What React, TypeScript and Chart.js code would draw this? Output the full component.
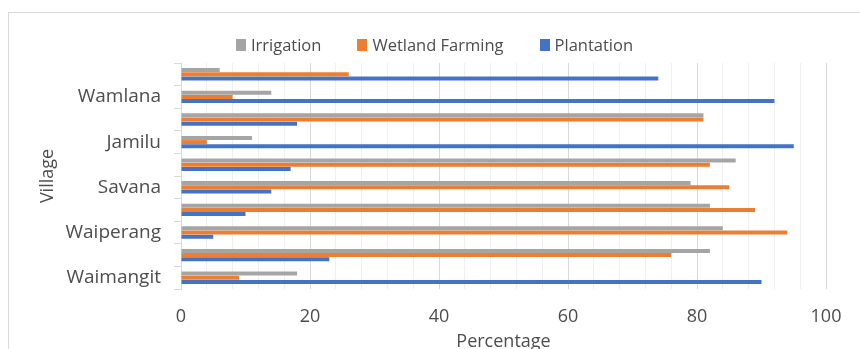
import React, { useEffect, useRef } from "react";
import { Chart, registerables } from "chart.js";

Chart.register(...registerables);

// Categories listed bottom-to-top, as on the value axis; blanks are unlabeled rows.
const villages = ["Waimangit", "", "Waiperang", "", "Savana", "", "Jamilu", "", "Wamlana", ""];

const irrigation = [18, 82, 84, 82, 79, 86, 11, 81, 14, 6];
const wetlandFarming = [9, 76, 94, 89, 85, 82, 4, 81, 8, 26];
const plantation = [90, 23, 5, 10, 14, 17, 95, 18, 92, 74];

const seriesNames = ["Irrigation", "Wetland Farming", "Plantation"];
const seriesColors = ["#A5A5A5", "#ED7D31", "#4472C4"];

const FONT = "'Open Sans', 'DejaVu Sans', sans-serif";
const TEXT = "#4d4d4d";
const MAJOR_GRID = "#d9d9d9";
const MINOR_GRID = "#efefef";

export default function App() {
  const canvasRef = useRef<HTMLCanvasElement>(null);

  useEffect(() => {
    if (!canvasRef.current) return;
    const chart = new Chart(canvasRef.current, {
      type: "bar",
      data: {
        labels: villages,
        datasets: [irrigation, wetlandFarming, plantation].map((values, i) => ({
          label: seriesNames[i],
          data: values,
          backgroundColor: seriesColors[i],
          borderWidth: 0,
          categoryPercentage: 0.56,
          barPercentage: 0.95,
        })),
      },
      options: {
        indexAxis: "y",
        animation: false,
        responsive: false,
        layout: { padding: { top: 50, right: 34, bottom: 0, left: 0 } },
        plugins: {
          legend: { display: false },
          tooltip: { enabled: false },
        },
        scales: {
          x: {
            min: 0,
            max: 100,
            ticks: {
              stepSize: 4,
              autoSkip: false,
              maxRotation: 0,
              padding: 17,
              color: TEXT,
              font: { family: FONT, size: 18 },
              callback: (v: any) => (Number(v) % 20 === 0 ? String(v) : ""),
            },
            grid: {
              drawTicks: false,
              lineWidth: 1,
              color: (ctx: any) =>
                ctx.tick && ctx.tick.value % 20 === 0 ? MAJOR_GRID : MINOR_GRID,
            },
            border: { display: false },
            title: {
              display: true,
              text: "Percentage",
              color: TEXT,
              font: { family: FONT, size: 18, lineHeight: 0.8 },
              padding: 0,
            },
            afterFit: (s: any) => {
              s.height = 60;
            },
          },
          y: {
            reverse: true,
            ticks: {
              autoSkip: false,
              padding: 13,
              color: TEXT,
              font: { family: FONT, size: 19 },
            },
            grid: {
              drawOnChartArea: false,
              drawTicks: true,
              tickLength: 7,
              color: MAJOR_GRID,
            },
            border: { display: true, color: MAJOR_GRID },
            title: {
              display: true,
              text: "Village",
              color: TEXT,
              font: { family: FONT, size: 18, lineHeight: 1.2 },
              padding: { top: 28, bottom: 0 },
            },
            afterFit: (s: any) => {
              s.width = 172;
            },
          },
        },
      },
    });
    return () => chart.destroy();
  }, []);

  return (
    <div
      style={{
        position: "fixed",
        left: 0,
        top: 0,
        width: 860,
        height: 349,
        overflow: "hidden",
        background: "#fff",
      }}
    >
      <div
        style={{
          position: "absolute",
          left: 8,
          top: 12,
          width: 900,
          height: 400,
          border: "1px solid #d9d9d9",
          boxSizing: "border-box",
        }}
      />
      <canvas
        ref={canvasRef}
        width={851}
        height={336}
        style={{ position: "absolute", left: 9, top: 13, width: 851, height: 336 }}
      />
      <div
        style={{
          position: "absolute",
          left: 9,
          top: 35,
          width: 851,
          height: 20,
          display: "flex",
          justifyContent: "center",
          alignItems: "center",
          gap: 36,
          fontFamily: FONT,
          fontSize: 16.5,
          color: TEXT,
          lineHeight: "20px",
        }}
      >
        {seriesNames.map((name, i) => (
          <div key={name} style={{ display: "flex", alignItems: "center" }}>
            <span
              style={{
                display: "inline-block",
                width: 10,
                height: 12,
                background: seriesColors[i],
                marginRight: 5,
              }}
            />
            <span>{name}</span>
          </div>
        ))}
      </div>
    </div>
  );
}
